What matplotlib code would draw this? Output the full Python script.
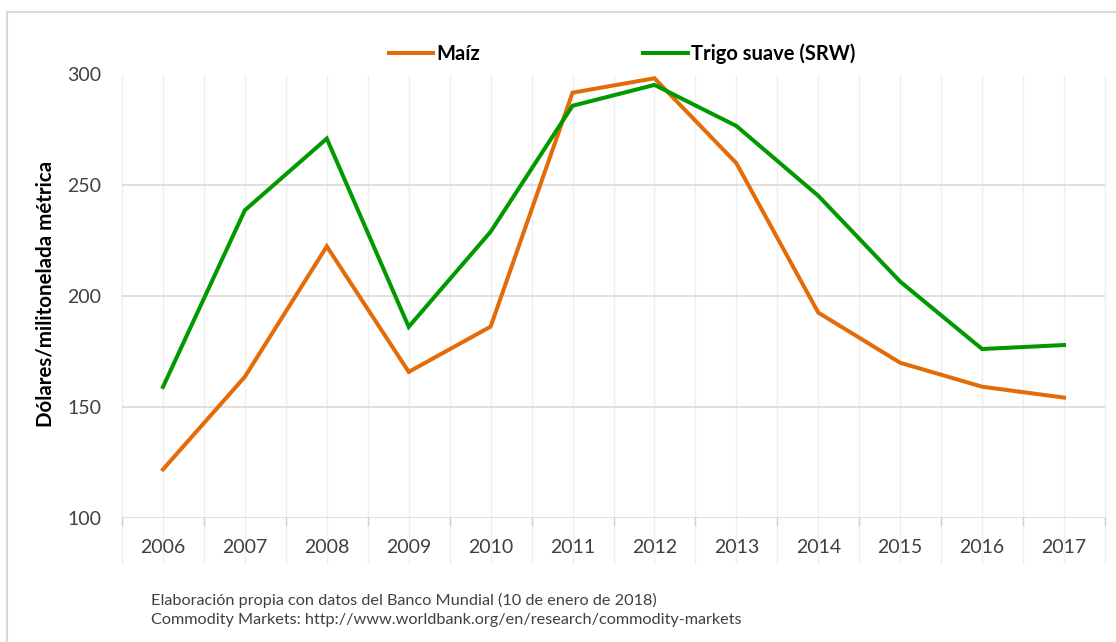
import matplotlib
matplotlib.use("Agg")
import matplotlib.pyplot as plt
from matplotlib.patches import Rectangle

years = ["2006", "2007", "2008", "2009", "2010", "2011", "2012",
         "2013", "2014", "2015", "2016", "2017"]
maiz = [121.9, 163.7, 222.5, 165.9, 186.3, 291.8, 298.3,
        260.0, 192.6, 170.0, 159.2, 154.3]
trigo = [159.1, 238.8, 271.1, 186.2, 229.1, 285.9, 295.3,
         276.8, 245.3, 206.6, 176.2, 178.0]
yticks = [100, 150, 200, 250, 300]

plt.rcParams['font.family'] = ['Lato', 'DejaVu Sans']

W, H = 1116, 642
fig = plt.figure(figsize=(W / 100, H / 100), dpi=100)

# outer chart border (light gray, runs off right/bottom edge)
fig.patches.append(Rectangle((7 / W, -0.1), 1.2, 1 - 12 / H + 0.1,
                             transform=fig.transFigure, fill=False,
                             edgecolor="#D9D9D9", linewidth=1.5))

left, right, top, bottom = 122, 1105, 74.5, 518
ax = fig.add_axes([left / W, 1 - bottom / H, (right - left) / W, (bottom - top) / H])

x = list(range(len(years)))
ax.set_xlim(-0.5, len(years) - 0.5)
ax.set_ylim(100, 300)

# gridlines
for v in yticks:
    ax.axhline(v, color="#D9D9D9", linewidth=1.2, zorder=1)
xt = ax.get_xaxis_transform()
for i in range(len(years) + 1):
    ax.plot([i - 0.5, i - 0.5], [-45 / 444, 1], transform=xt, color="#EFEFEF",
            linewidth=1, clip_on=False, zorder=0)
    ax.plot([i - 0.5, i - 0.5], [-7 / 444, 0], transform=xt, color="#D0D0D0",
            linewidth=1, clip_on=False, zorder=0)
for i in x:
    ax.plot([i, i], [-45 / 444, 1], transform=xt, color="#EFEFEF",
            linewidth=1, clip_on=False, zorder=0)

ax.plot(x, maiz, color="#E36C09", linewidth=2.9, label="Maíz", zorder=3,
        solid_joinstyle="miter")
ax.plot(x, trigo, color="#009A00", linewidth=2.9, label="Trigo suave (SRW)", zorder=3,
        solid_joinstyle="miter")

for s in ["top", "right", "left", "bottom"]:
    ax.spines[s].set_visible(False)

ax.set_xticks(x)
ax.set_xticklabels(years)
ax.set_yticks(yticks)
ax.tick_params(axis="both", length=0, labelsize=14, colors="#404040", labelcolor="#404040")
ax.tick_params(axis="x", pad=15)
ax.tick_params(axis="y", pad=15)

ax.set_ylabel("Dólares/militonelada métrica", fontsize=14.8, fontweight="bold",
              color="black")
ax.yaxis.set_label_coords((56 - left) / (right - left), 0.505)

fig.legend(loc="center", bbox_to_anchor=(622 / W, 1 - 54 / H), ncol=2,
           frameon=False, prop={"weight": "bold", "size": 14.5},
           handlelength=2.2, handletextpad=0.15, columnspacing=8.1)

fig.text(151 / W, 1 - 600 / H, "Elaboración propia con datos del Banco Mundial (10 de enero de 2018)",
         fontsize=11.7, color="#404040", va="center")
fig.text(151 / W, 1 - 620 / H, "Commodity Markets: http://www.worldbank.org/en/research/commodity-markets",
         fontsize=11.7, color="#404040", va="center")

fig.savefig("out.png", dpi=100)
